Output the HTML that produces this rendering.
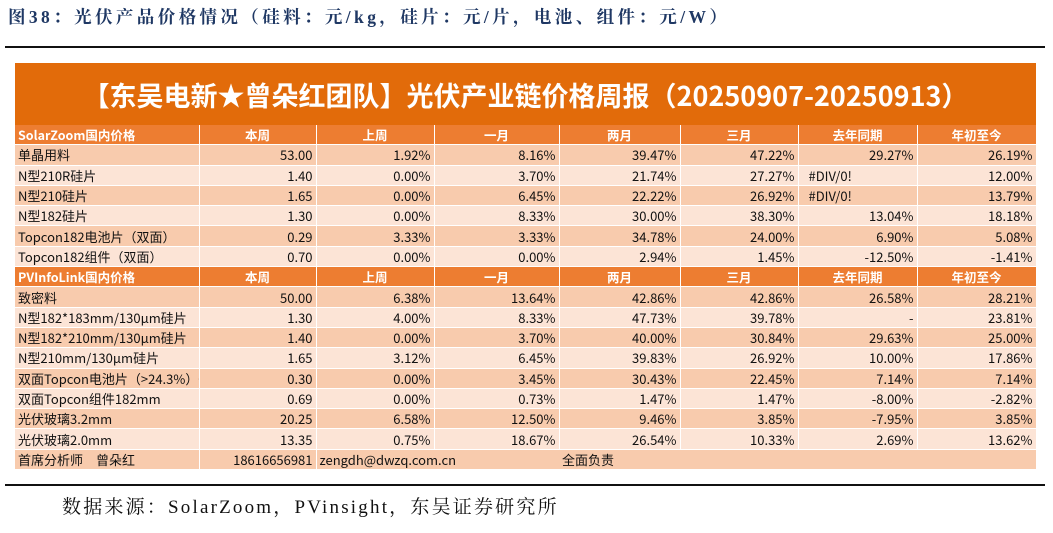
<!DOCTYPE html>
<html><head><meta charset="utf-8"><style>
body{margin:0;width:1053px;height:533px;background:#fff;position:relative;overflow:hidden;font-family:"Liberation Sans","Noto Sans CJK SC",sans-serif;}
.title{position:absolute;left:8px;top:4px;font-family:"Liberation Serif","Noto Serif CJK SC",serif;font-size:17.5px;letter-spacing:3.4px;font-weight:bold;color:#1f3864;white-space:nowrap;}
.rule{position:absolute;left:5px;width:1040px;height:2px;background:#111;}
.banner{position:absolute;left:15px;top:63px;width:1021px;height:62px;background:#E26B0A;color:#fff;font-size:27px;font-weight:bold;text-align:center;line-height:64px;font-family:"Noto Sans CJK SC","Liberation Sans",sans-serif;}
table{position:absolute;left:15px;top:125px;width:1021px;border-collapse:collapse;table-layout:fixed;font-size:13px;font-family:"Noto Sans CJK SC","Liberation Sans",sans-serif;}
td{height:19.3px;padding:0 3px;border-right:1px solid #fff;border-bottom:1px solid #fff;white-space:nowrap;overflow:hidden;text-align:right;color:#111;line-height:19px;}
td:first-child{text-align:left;}
tr.h td{background:#ED7D31;color:#fff;font-weight:bold;text-align:center;font-size:12.5px;}
tr.h td:first-child{text-align:left;}
tr.d td{background:#F8CBAD;}
tr.l td{background:#FCE4D6;}
.src{position:absolute;left:62px;top:492px;font-family:"Liberation Serif","Noto Serif CJK SC",serif;font-size:19px;letter-spacing:2.2px;color:#111;white-space:nowrap;}
</style></head><body>
<div class="title">图38：光伏产品价格情况（硅料：元/kg，硅片：元/片，电池、组件：元/W）</div>
<div class="rule" style="top:46px"></div>
<div class="banner">【东吴电新★曾朵红团队】光伏产业链价格周报（20250907-20250913）</div>
<table>
<colgroup><col style="width:184px"><col style="width:117px"><col style="width:118px"><col style="width:125px"><col style="width:121px"><col style="width:118px"><col style="width:119px"><col style="width:119px"></colgroup>
<tr class="h"><td>SolarZoom国内价格</td><td>本周</td><td>上周</td><td>一月</td><td>两月</td><td>三月</td><td>去年同期</td><td>年初至今</td></tr>
<tr class="d"><td>单晶用料</td><td>53.00</td><td>1.92%</td><td>8.16%</td><td>39.47%</td><td>47.22%</td><td>29.27%</td><td>26.19%</td></tr>
<tr class="l"><td>N型210R硅片</td><td>1.40</td><td>0.00%</td><td>3.70%</td><td>21.74%</td><td>27.27%</td><td style="text-align:left;padding-left:10px">#DIV/0!</td><td>12.00%</td></tr>
<tr class="d"><td>N型210硅片</td><td>1.65</td><td>0.00%</td><td>6.45%</td><td>22.22%</td><td>26.92%</td><td style="text-align:left;padding-left:10px">#DIV/0!</td><td>13.79%</td></tr>
<tr class="l"><td>N型182硅片</td><td>1.30</td><td>0.00%</td><td>8.33%</td><td>30.00%</td><td>38.30%</td><td>13.04%</td><td>18.18%</td></tr>
<tr class="d"><td>Topcon182电池片（双面）</td><td>0.29</td><td>3.33%</td><td>3.33%</td><td>34.78%</td><td>24.00%</td><td>6.90%</td><td>5.08%</td></tr>
<tr class="l"><td>Topcon182组件（双面）</td><td>0.70</td><td>0.00%</td><td>0.00%</td><td>2.94%</td><td>1.45%</td><td>-12.50%</td><td>-1.41%</td></tr>
<tr class="h"><td>PVInfoLink国内价格</td><td>本周</td><td>上周</td><td>一月</td><td>两月</td><td>三月</td><td>去年同期</td><td>年初至今</td></tr>
<tr class="d"><td>致密料</td><td>50.00</td><td>6.38%</td><td>13.64%</td><td>42.86%</td><td>42.86%</td><td>26.58%</td><td>28.21%</td></tr>
<tr class="l"><td>N型182*183mm/130μm硅片</td><td>1.30</td><td>4.00%</td><td>8.33%</td><td>47.73%</td><td>39.78%</td><td>-</td><td>23.81%</td></tr>
<tr class="d"><td>N型182*210mm/130μm硅片</td><td>1.40</td><td>0.00%</td><td>3.70%</td><td>40.00%</td><td>30.84%</td><td>29.63%</td><td>25.00%</td></tr>
<tr class="l"><td>N型210mm/130μm硅片</td><td>1.65</td><td>3.12%</td><td>6.45%</td><td>39.83%</td><td>26.92%</td><td>10.00%</td><td>17.86%</td></tr>
<tr class="d"><td>双面Topcon电池片（&gt;24.3%）+</td><td>0.30</td><td>0.00%</td><td>3.45%</td><td>30.43%</td><td>22.45%</td><td>7.14%</td><td>7.14%</td></tr>
<tr class="l"><td>双面Topcon组件182mm</td><td>0.69</td><td>0.00%</td><td>0.73%</td><td>1.47%</td><td>1.47%</td><td>-8.00%</td><td>-2.82%</td></tr>
<tr class="d"><td>光伏玻璃3.2mm</td><td>20.25</td><td>6.58%</td><td>12.50%</td><td>9.46%</td><td>3.85%</td><td>-7.95%</td><td>3.85%</td></tr>
<tr class="l"><td>光伏玻璃2.0mm</td><td>13.35</td><td>0.75%</td><td>18.67%</td><td>26.54%</td><td>10.33%</td><td>2.69%</td><td>13.62%</td></tr>
<tr class="d"><td>首席分析师　曾朵红</td><td>18616656981</td><td colspan="2" style="text-align:left;border-right:none">zengdh@dwzq.com.cn</td><td colspan="4" style="text-align:left">全面负责</td></tr>
</table>
<div class="rule" style="top:484px"></div>
<div class="src">数据来源：SolarZoom，PVinsight，东吴证券研究所</div>
</body></html>
